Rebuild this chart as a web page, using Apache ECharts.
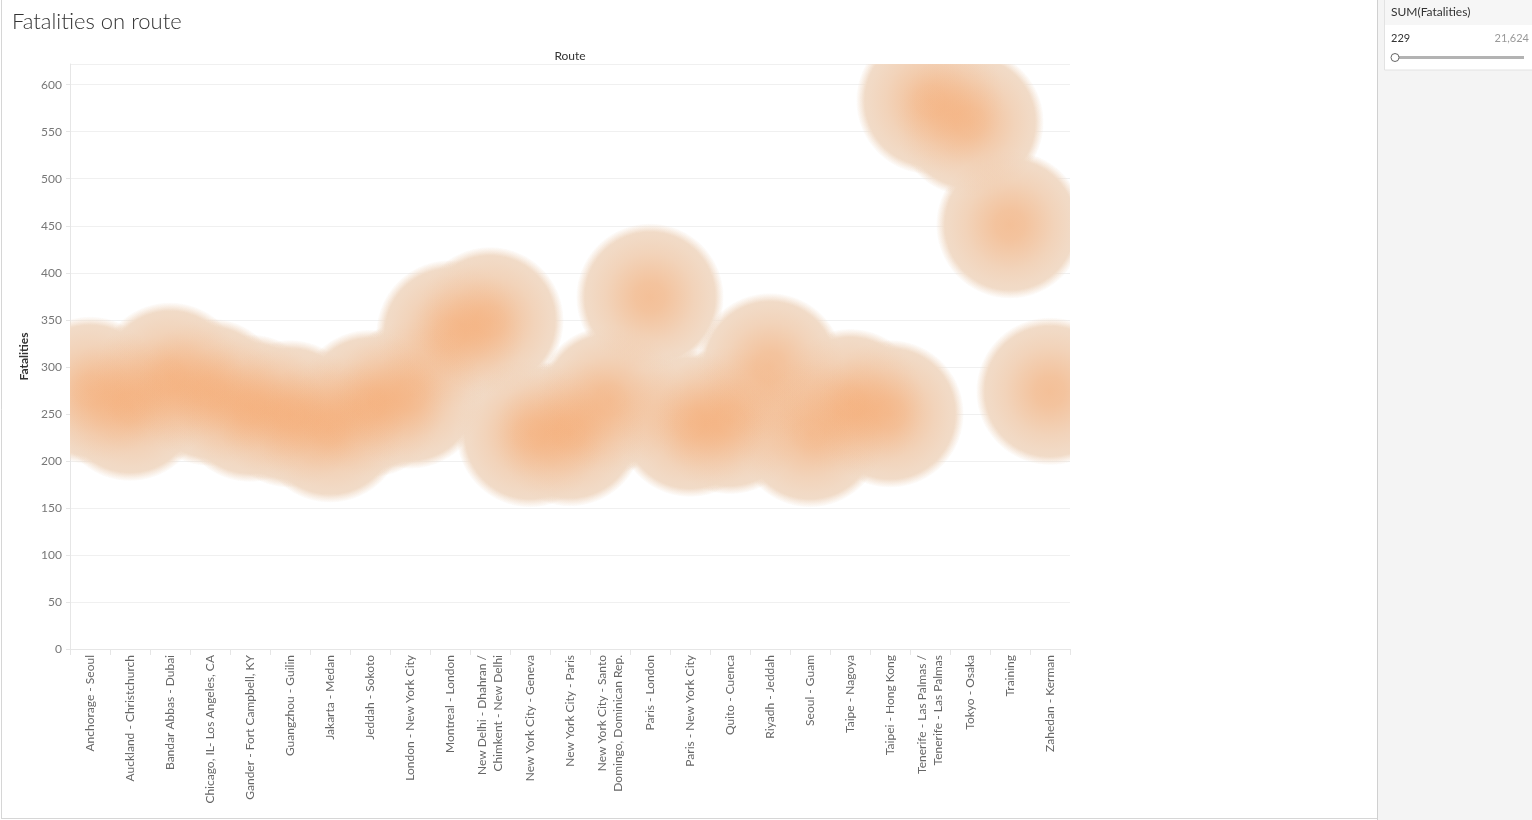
<!DOCTYPE html>
<html>
<head>
<meta charset="utf-8">
<script src="https://cdn.jsdelivr.net/npm/echarts@6/dist/echarts.min.js"></script>
<style>
html,body{margin:0;padding:0;background:#fff;}
#chart{width:1532px;height:820px;}
</style>
</head>
<body>
<div id="chart"></div>
<script>
// ---- data ----
const routes = [
  "Anchorage - Seoul",
  "Auckland - Christchurch",
  "Bandar Abbas - Dubai",
  "Chicago, IL- Los Angeles, CA",
  "Gander - Fort Campbell, KY",
  "Guangzhou - Guilin",
  "Jakarta - Medan",
  "Jeddah - Sokoto",
  "London - New York City",
  "Montreal - London",
  "New Delhi - Dhahran /\nChimkent - New Delhi",
  "New York City - Geneva",
  "New York City - Paris",
  "New York City - Santo\nDomingo, Dominican Rep.",
  "Paris - London",
  "Paris - New York City",
  "Quito - Cuenca",
  "Riyadh - Jeddah",
  "Seoul - Guam",
  "Taipe - Nagoya",
  "Taipei - Hong Kong",
  "Tenerife - Las Palmas /\nTenerife - Las Palmas",
  "Tokyo - Osaka",
  "Training",
  "Zahedan - Kerman"
];
const fatalities = [275, 257, 290, 273, 256, 250, 234, 261, 270, 335, 349, 229, 230, 265, 374, 240, 243, 300, 229, 262, 250, 583, 560, 451, 274];
const chartTitle = "Fatalities on route";
const xTitle = "Route";
const yTitle = "Fatalities";
const filterTitle = "SUM(Fatalities)";
const filterMin = "229";
const filterMax = "21,624";

// ---- styling ----
const BLOB_R = 74;
const beige = [241, 221, 203];
const orange = [248, 146, 72];
const rgba = (c, a) => `rgba(${c[0]},${c[1]},${c[2]},${a})`;

const seriesData = fatalities.map((v, i) => [i, v]);

function blobRenderer(kind) {
  return function (params, api) {
    const p = api.coord([api.value(0), api.value(1)]);
    let fill;
    if (kind === 'base') {
      fill = new echarts.graphic.RadialGradient(0.5, 0.5, 0.5, [
        { offset: 0, color: rgba(beige, 1) },
        { offset: 0.88, color: rgba(beige, 1) },
        { offset: 1, color: rgba(beige, 0) }
      ]);
    } else {
      fill = new echarts.graphic.RadialGradient(0.5, 0.5, 0.5, [
        { offset: 0, color: rgba(orange, 0.39) },
        { offset: 0.2, color: rgba(orange, 0.345) },
        { offset: 0.4, color: rgba(orange, 0.24) },
        { offset: 0.6, color: rgba(orange, 0.13) },
        { offset: 0.8, color: rgba(orange, 0.05) },
        { offset: 0.92, color: rgba(orange, 0.015) },
        { offset: 1, color: rgba(orange, 0) }
      ]);
    }
    return {
      type: 'circle',
      shape: { cx: p[0], cy: p[1], r: BLOB_R },
      style: { fill: fill }
    };
  };
}

const chart = echarts.init(document.getElementById('chart'), null, { renderer: 'canvas' });

const option = {
  animation: false,
  textStyle: { fontFamily: 'Lato' },
  title: {
    text: chartTitle,
    left: 7,
    top: 6,
    textStyle: { fontFamily: 'Lato', fontSize: 22, fontWeight: 300, color: '#333' }
  },
  grid: { left: 70, right: 462, top: 64, bottom: 171, containLabel: false },
  xAxis: [
    {
      type: 'category',
      data: routes,
      position: 'bottom',
      boundaryGap: true,
      axisLine: { show: true, lineStyle: { color: '#e6e6e6' } },
      axisTick: { show: true, alignWithLabel: false, length: 6, lineStyle: { color: '#e6e6e6' } },
      axisLabel: {
        interval: 0,
        rotate: 90,
        margin: 6,
        fontSize: 12,
        lineHeight: 16,
        color: '#666',
        fontFamily: 'Lato'
      },
      splitLine: { show: false }
    },
    {
      type: 'category',
      data: routes,
      position: 'top',
      name: xTitle,
      nameLocation: 'middle',
      nameGap: 2,
      nameTextStyle: { fontSize: 12, color: '#333', fontFamily: 'Lato' },
      axisLine: { show: false },
      axisTick: { show: false },
      axisLabel: { show: false },
      splitLine: { show: false }
    }
  ],
  yAxis: {
    type: 'value',
    min: 0,
    max: 622,
    interval: 50,
    name: yTitle,
    nameLocation: 'middle',
    nameGap: 36,
    nameTextStyle: { fontSize: 12, color: '#333', fontWeight: 'bold', fontFamily: 'Lato' },
    axisLine: { show: true, lineStyle: { color: '#e6e6e6' } },
    axisTick: { show: true, length: 4, lineStyle: { color: '#e6e6e6' } },
    axisLabel: {
      showMaxLabel: false,
      fontSize: 12,
      color: '#777',
      margin: 8,
      formatter: v => (v % 50 === 0 ? String(v) : '')
    },
    splitLine: { show: true, lineStyle: { color: '#f0f0f0' } }
  },
  series: [
    {
      type: 'custom',
      name: 'base',
      clip: true,
      renderItem: blobRenderer('base'),
      data: seriesData,
      encode: { x: 0, y: 1 },
      z: 2
    },
    {
      type: 'custom',
      name: 'density',
      clip: true,
      renderItem: blobRenderer('density'),
      data: seriesData,
      encode: { x: 0, y: 1 },
      z: 3
    }
  ],
  graphic: [
    // sheet border
    { type: 'line', shape: { x1: 1.5, y1: 0, x2: 1.5, y2: 818.5 }, style: { stroke: '#d6d6d6', lineWidth: 1 }, silent: true },
    { type: 'line', shape: { x1: 1, y1: 818.5, x2: 1377, y2: 818.5 }, style: { stroke: '#d6d6d6', lineWidth: 1 }, silent: true },
    // right panel
    { type: 'rect', shape: { x: 1378, y: 0, width: 154, height: 820 }, style: { fill: '#f4f4f4' }, silent: true },
    { type: 'line', shape: { x1: 1377.5, y1: 0, x2: 1377.5, y2: 820 }, style: { stroke: '#d0d0d0', lineWidth: 1 }, silent: true },
    // filter card
    { type: 'rect', shape: { x: 1384.5, y: -1, width: 150, height: 71 }, style: { fill: '#ffffff', stroke: '#e2e2e2', lineWidth: 1 }, silent: true },
    { type: 'rect', shape: { x: 1385, y: 0, width: 147, height: 25 }, style: { fill: '#f6f6f6' }, silent: true },
    { type: 'text', x: 1391, y: 12, style: { text: filterTitle, fontSize: 12, fontFamily: 'Lato', fill: '#333', verticalAlign: 'middle', align: 'left' }, silent: true },
    { type: 'text', x: 1391, y: 38, style: { text: filterMin, fontSize: 11, fontFamily: 'Lato', fill: '#333', verticalAlign: 'middle', align: 'left' }, silent: true },
    { type: 'text', x: 1529, y: 38, style: { text: filterMax, fontSize: 11, fontFamily: 'Lato', fill: '#999', verticalAlign: 'middle', align: 'right' }, silent: true },
    { type: 'rect', shape: { x: 1396, y: 56, width: 128, height: 3 }, style: { fill: '#b3b3b3' }, silent: true },
    { type: 'circle', shape: { cx: 1395, cy: 57.5, r: 4 }, style: { fill: '#fff', stroke: '#666', lineWidth: 1 }, silent: true }
  ]
};

chart.setOption(option);
</script>
</body>
</html>
